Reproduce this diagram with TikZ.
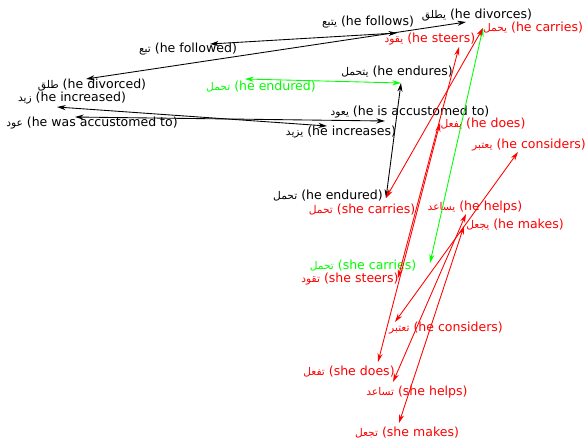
\documentclass[tikz,border=0pt]{standalone}
\usepackage{fontspec}
\setmainfont{DejaVu Sans}
\newfontfamily\arabicfont[Script=Arabic,Scale=0.85]{DejaVu Sans}
\TeXXeTstate=1
\usetikzlibrary{arrows.meta}
\newcommand{\arw}[1]{{\arabicfont\beginR #1\endR}}
\definecolor{vgreen}{RGB}{0,255,0}
\definecolor{vred}{RGB}{255,0,0}
\begin{document}
\begin{tikzpicture}[x=0.75pt,y=-0.75pt,
  lbl/.style={font=\fontsize{9.4}{11}\selectfont, inner sep=0pt, anchor=center},
  conn/.style={{Stealth[length=6.5pt,width=3.8pt]}-{Stealth[length=6.5pt,width=3.8pt]}, line width=0.65pt}]
\useasboundingbox (0,0) rectangle (587,444);
\fill[white] (0,0) rectangle (587,444);
% points
\coordinate (pFollowed) at (210,44);
\coordinate (pFollows) at (397,33);
\coordinate (pDivorced) at (86,79);
\coordinate (pDivorces) at (466,22);
\coordinate (pEnduredG) at (245,79);
\coordinate (pEndures) at (401,83);
\coordinate (pIncreased) at (57,107);
\coordinate (pIncreases) at (327,126);
\coordinate (pWasAcc) at (75,117);
\coordinate (pIsAcc) at (385,121);
\coordinate (pEndured) at (386,198);
\coordinate (pCarries) at (483,28);
\coordinate (pSheCarriesG) at (430,263);
\coordinate (pSteers) at (459,47);
\coordinate (pSheSteers) at (398,278);
\coordinate (pDoes) at (440,123);
\coordinate (pSheDoes) at (378,362);
\coordinate (pConsiders) at (518,152);
\coordinate (pSheConsiders) at (395,322);
\coordinate (pHelps) at (466,214);
\coordinate (pSheHelps) at (393,382);
\coordinate (pMakes) at (464,226);
\coordinate (pSheMakes) at (399,423);
% labels black
\node[lbl] (lFollows) at (368,22) {\arw{يتبع} (he follows)};
\node[lbl] (lDivorces) at (477,15) {\arw{يطلق} (he divorces)};
\node[lbl] (lFollowed) at (188,49) {\arw{تبع} (he followed)};
\node[lbl] (lDivorced) at (92,85) {\arw{طلق} (he divorced)};
\node[lbl] (lIncreased) at (72,98) {\arw{زيد} (he increased)};
\node[lbl] (lWasAcc) at (92,123) {\arw{عود} (he was accustomed to)};
\node[lbl] (lEndures) at (397,72) {\arw{يتحمل} (he endures)};
\node[lbl] (lIsAcc) at (410,112) {\arw{يعود} (he is accustomed to)};
\node[lbl] (lIncreases) at (341,132) {\arw{يزيد} (he increases)};
\node[lbl] (lEndured) at (328,196) {\arw{تحمل} (he endured)};
% labels green
\node[lbl,text=vgreen] (lEnduredG) at (261,87) {\arw{تحمل} (he endured)};
\node[lbl,text=vgreen] (lSheCarriesG) at (363,266) {\arw{تحمل} (she carries)};
% labels red
\node[lbl,text=vred] (lCarries) at (533,28) {\arw{يحمل} (he carries)};
\node[lbl,text=vred] (lSteers) at (430,39) {\arw{يقود} (he steers)};
\node[lbl,text=vred] (lDoes) at (483,124) {\arw{يفعل} (he does)};
\node[lbl,text=vred] (lConsiders) at (529,145) {\arw{يعتبر} (he considers)};
\node[lbl,text=vred] (lSheCarries) at (362,210) {\arw{تحمل} (she carries)};
\node[lbl,text=vred] (lHelps) at (475,207) {\arw{يساعد} (he helps)};
\node[lbl,text=vred] (lMakes) at (515,225) {\arw{يجعل} (he makes)};
\node[lbl,text=vred] (lSheSteers) at (350,279) {\arw{تقود} (she steers)};
\node[lbl,text=vred] (lSheConsiders) at (446,328) {\arw{تعتبر} (he considers)};
\node[lbl,text=vred] (lSheDoes) at (349,372) {\arw{تفعل} (she does)};
\node[lbl,text=vred] (lSheHelps) at (417,392) {\arw{تساعد} (she helps)};
\node[lbl,text=vred] (lSheMakes) at (407,433) {\arw{تجعل} (she makes)};
% connectors black
\draw[conn] (pFollowed) -- (pFollows);
\draw[conn] (pDivorced) -- (pDivorces);
\draw[conn] (pIncreased) -- (pIncreases);
\draw[conn] (pWasAcc) -- (pIsAcc);
\draw[conn] (pEndured) -- (pEndures);
% green
\draw[conn,vgreen] (pEnduredG) -- (pEndures);
\draw[conn,vgreen] (pCarries) -- (pSheCarriesG);
% red
\draw[conn,vred] (pCarries) -- (pEndured);
\draw[conn,vred] (pSteers) -- (pSheSteers);
\draw[conn,vred] (pDoes) -- (pSheDoes);
\draw[conn,vred] (pConsiders) -- (pSheConsiders);
\draw[conn,vred] (pHelps) -- (pSheHelps);
\draw[conn,vred] (pMakes) -- (pSheMakes);
\end{tikzpicture}
\end{document}
